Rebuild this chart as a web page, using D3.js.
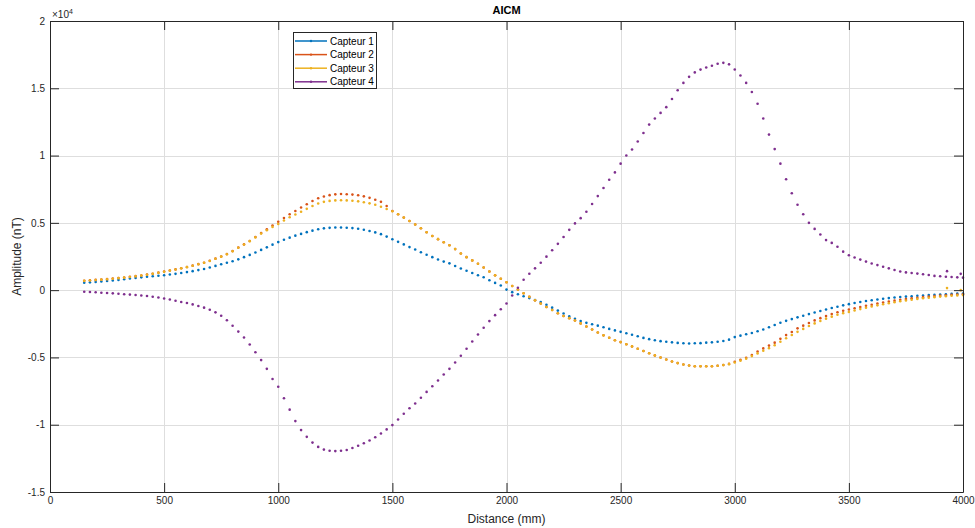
<!DOCTYPE html>
<html>
<head>
<meta charset="utf-8">
<script src="https://cdn.jsdelivr.net/npm/d3@7"></script>
<style>
  html, body { margin: 0; padding: 0; background: #fff; }
  svg { display: block; font-family: "Liberation Sans", Arial, Helvetica, sans-serif; }
</style>
</head>
<body>
<svg id="chart" width="975" height="528"></svg>
<script>
// ---- data ----
const distance = [150,175,200,225,250,275,300,325,350,375,400,425,450,475,500,525,550,575,600,625,650,675,700,725,750,775,800,825,850,875,900,925,950,975,1000,1025,1050,1075,1100,1125,1150,1175,1200,1225,1250,1275,1300,1325,1350,1375,1400,1425,1450,1475,1500,1525,1550,1575,1600,1625,1650,1675,1700,1725,1750,1775,1800,1825,1850,1875,1900,1925,1950,1975,2000,2025,2050,2075,2100,2125,2150,2175,2200,2225,2250,2275,2300,2325,2350,2375,2400,2425,2450,2475,2500,2525,2550,2575,2600,2625,2650,2675,2700,2725,2750,2775,2800,2825,2850,2875,2900,2925,2950,2975,3000,3025,3050,3075,3100,3125,3150,3175,3200,3225,3250,3275,3300,3325,3350,3375,3400,3425,3450,3475,3500,3525,3550,3575,3600,3625,3650,3675,3700,3725,3750,3775,3800,3825,3850,3875,3900,3925,3950,3975,4000];

const capteur1 = [550,580,610,640,680,720,760,810,860,900,950,990,1030,1070,1110,1160,1210,1270,1340,1410,1490,1570,1680,1800,1920,2030,2150,2290,2450,2620,2800,2990,3180,3380,3570,3740,3900,4050,4180,4310,4420,4520,4590,4630,4660,4660,4640,4610,4560,4490,4400,4290,4160,3980,3780,3590,3400,3200,3020,2820,2630,2450,2280,2120,1990,1790,1610,1440,1270,1110,960,740,540,340,40,-150,-300,-450,-590,-730,-880,-1090,-1300,-1520,-1740,-1950,-2130,-2300,-2430,-2540,-2640,-2760,-2880,-2990,-3100,-3200,-3320,-3430,-3550,-3640,-3720,-3790,-3840,-3880,-3920,-3950,-3960,-3950,-3940,-3900,-3880,-3840,-3780,-3680,-3490,-3380,-3280,-3180,-3060,-2920,-2760,-2590,-2420,-2280,-2150,-2020,-1900,-1780,-1660,-1550,-1440,-1330,-1230,-1130,-1040,-960,-880,-810,-750,-700,-640,-590,-550,-510,-480,-450,-420,-400,-370,-350,-320,-300,-280,-260,-250];

const capteur2 = [700,730,760,790,820,860,900,940,990,1040,1090,1150,1220,1300,1380,1460,1540,1630,1720,1820,1930,2040,2180,2340,2500,2680,2900,3160,3400,3650,3950,4250,4520,4800,5080,5360,5640,5880,6140,6380,6620,6830,6960,7060,7120,7140,7130,7100,7050,6970,6860,6720,6560,6250,5880,5640,5390,5140,4880,4600,4300,4020,3790,3560,3340,3050,2720,2450,2210,1960,1680,1390,1100,850,590,310,40,-230,-500,-760,-1000,-1250,-1480,-1720,-1920,-2080,-2260,-2470,-2700,-2930,-3150,-3360,-3540,-3720,-3860,-4020,-4180,-4350,-4520,-4690,-4850,-5000,-5150,-5300,-5420,-5520,-5600,-5650,-5660,-5660,-5650,-5620,-5560,-5480,-5330,-5180,-5020,-4820,-4560,-4330,-4120,-3900,-3620,-3340,-3110,-2840,-2640,-2440,-2250,-2080,-1920,-1770,-1640,-1530,-1440,-1340,-1250,-1160,-1080,-1000,-920,-850,-780,-720,-660,-610,-560,-520,-480,-440,-410,-380,-350,-320,-300];

const capteur3 = [690,720,750,780,810,850,890,930,980,1030,1080,1140,1210,1290,1370,1450,1530,1620,1710,1810,1920,2030,2170,2330,2490,2670,2890,3150,3390,3640,3920,4200,4450,4700,4920,5180,5420,5620,5830,6040,6250,6440,6560,6630,6670,6680,6670,6640,6600,6530,6450,6340,6200,6030,5860,5640,5390,5140,4880,4600,4300,4020,3790,3560,3340,3050,2720,2450,2210,1960,1680,1390,1100,850,590,310,40,-230,-500,-760,-1000,-1250,-1480,-1720,-1920,-2080,-2260,-2470,-2700,-2930,-3150,-3360,-3540,-3720,-3860,-4020,-4180,-4350,-4520,-4690,-4850,-5000,-5150,-5300,-5420,-5520,-5600,-5650,-5660,-5660,-5650,-5620,-5570,-5500,-5380,-5240,-5090,-4900,-4700,-4500,-4310,-4100,-3840,-3570,-3330,-3100,-2880,-2670,-2470,-2290,-2120,-1970,-1830,-1710,-1620,-1510,-1410,-1310,-1220,-1130,-1050,-970,-900,-830,-770,-710,-650,-600,-560,-520,-480,-450,-420,-390,-370];

const capteur4 = [-120,-140,-160,-190,-210,-240,-270,-300,-330,-360,-400,-440,-490,-550,-620,-700,-790,-880,-960,-1060,-1180,-1300,-1460,-1650,-1900,-2240,-2650,-3080,-3520,-4040,-4620,-5200,-5850,-6600,-7180,-8030,-8880,-9730,-10400,-10900,-11330,-11650,-11850,-11940,-11960,-11940,-11880,-11730,-11560,-11380,-11170,-10930,-10650,-10350,-10030,-9610,-9180,-8780,-8420,-8000,-7560,-7140,-6710,-6270,-5850,-5380,-4880,-4350,-3820,-3300,-2800,-2300,-1860,-1420,-990,-400,180,770,1220,1620,2030,2490,2960,3440,3950,4480,4960,5350,5820,6400,6990,7590,8200,8750,9400,10000,10450,11050,11680,12300,12760,13170,13600,14200,14850,15400,15850,16180,16390,16540,16680,16820,16890,16780,16400,15950,15400,14720,13850,12750,11560,10480,9400,8240,7200,6350,5640,5000,4550,4140,3720,3510,3230,2860,2590,2430,2270,2120,1980,1860,1740,1620,1500,1380,1320,1270,1230,1180,1120,1060,1030,1000,980,950,930];

// isolated stray samples near the right edge
const capteur3Extra = [[3930, 150], [3990, 0]];
const capteur4Extra = [[3930, 1410], [3990, 1210]];

const seriesNames = ["Capteur 1", "Capteur 2", "Capteur 3", "Capteur 4"];
const seriesColors = ["#0072BD", "#D95319", "#EDB120", "#7E2F8E"];

const xTicks = [0, 500, 1000, 1500, 2000, 2500, 3000, 3500, 4000];
const yTicks = [-15000, -10000, -5000, 0, 5000, 10000, 15000, 20000];
const yTickLabels = ["-1.5", "-1", "-0.5", "0", "0.5", "1", "1.5", "2"];

const titleText = "AICM";
const xLabel = "Distance (mm)";
const yLabel = "Amplitude (nT)";

// ---- drawing ----
const svg = d3.select("#chart");
const L = 50, R = 963, T = 21, B = 492;
const x = d3.scaleLinear().domain([0, 4000]).range([L, R]);
const y = d3.scaleLinear().domain([-15000, 20000]).range([B, T]);
const axisColor = "#262626";
const tickLen = 9;

// grid
const grid = svg.append("g");
grid.selectAll("line.gx").data(xTicks.slice(1, -1)).enter().append("line")
  .attr("x1", d => Math.round(x(d)) + 0.5).attr("x2", d => Math.round(x(d)) + 0.5)
  .attr("y1", T).attr("y2", B)
  .attr("stroke", "#dedede").attr("stroke-width", 1);
grid.selectAll("line.gy").data(yTicks.slice(1, -1)).enter().append("line")
  .attr("y1", d => Math.round(y(d)) + 0.5).attr("y2", d => Math.round(y(d)) + 0.5)
  .attr("x1", L).attr("x2", R)
  .attr("stroke", "#dedede").attr("stroke-width", 1);

// data points
const allSeries = [capteur1, capteur2, capteur3, capteur4];
const extras = [[], [], capteur3Extra, capteur4Extra];
allSeries.forEach((vals, i) => {
  const pts = vals.map((v, k) => [distance[k], v]).concat(extras[i]);
  svg.append("g").selectAll("circle").data(pts).enter().append("circle")
    .attr("cx", d => x(d[0])).attr("cy", d => y(d[1]))
    .attr("r", 1.3).attr("fill", seriesColors[i]);
});

// axes box with inward ticks (bottom/left via d3 axes, mirrored on top/right)
const xAxisB = d3.axisBottom(x).tickValues(xTicks).tickSizeInner(-tickLen).tickSizeOuter(0).tickPadding(5).tickFormat(d3.format("d"));
const xAxisT = d3.axisTop(x).tickValues(xTicks).tickSizeInner(-tickLen).tickSizeOuter(0).tickFormat("");
const yAxisL = d3.axisLeft(y).tickValues(yTicks).tickSizeInner(-tickLen).tickSizeOuter(0).tickPadding(5)
  .tickFormat((d, i) => yTickLabels[i]);
const yAxisR = d3.axisRight(y).tickValues(yTicks).tickSizeInner(-tickLen).tickSizeOuter(0).tickFormat("");

function styleAxis(g) {
  g.select(".domain").attr("stroke", axisColor).attr("stroke-width", 1);
  g.selectAll(".tick line").attr("stroke", axisColor).attr("stroke-width", 1);
  g.selectAll(".tick text").attr("fill", axisColor).attr("font-size", 10)
    .attr("font-family", "'Liberation Sans', Arial, sans-serif");
}
svg.append("g").attr("transform", `translate(0,${B})`).call(xAxisB).call(styleAxis);
svg.append("g").attr("transform", `translate(0,${T})`).call(xAxisT).call(styleAxis);
svg.append("g").attr("transform", `translate(${L},0)`).call(yAxisL).call(styleAxis);
svg.append("g").attr("transform", `translate(${R},0)`).call(yAxisR).call(styleAxis);

// exponent label
const exp = svg.append("text").attr("x", 52).attr("y", 18).attr("fill", axisColor).attr("font-size", 10);
exp.append("tspan").text("×10");
exp.append("tspan").attr("font-size", 7).attr("dy", -4).text("4");

// title and labels
svg.append("text").attr("x", (L + R) / 2).attr("y", 14).attr("text-anchor", "middle")
  .attr("font-size", 11).attr("font-weight", "bold").attr("fill", "#000").text(titleText);
svg.append("text").attr("x", (L + R) / 2).attr("y", 523).attr("text-anchor", "middle")
  .attr("font-size", 12).attr("fill", axisColor).text(xLabel);
svg.append("text").attr("transform", `translate(21,${(T + B) / 2}) rotate(-90)`).attr("text-anchor", "middle")
  .attr("font-size", 12).attr("fill", axisColor).text(yLabel);

// legend
const lg = svg.append("g");
lg.append("rect").attr("x", 293.5).attr("y", 32.5).attr("width", 83).attr("height", 56)
  .attr("fill", "#fff").attr("stroke", axisColor).attr("stroke-width", 1);
seriesNames.forEach((name, i) => {
  const yy = 41 + i * 13.6;
  lg.append("line").attr("x1", 295).attr("x2", 327).attr("y1", yy).attr("y2", yy)
    .attr("stroke", seriesColors[i]).attr("stroke-width", 1.5);
  lg.append("circle").attr("cx", 311).attr("cy", yy).attr("r", 1.2).attr("fill", seriesColors[i]);
  lg.append("text").attr("x", 330).attr("y", yy + 3.5).attr("font-size", 10).attr("fill", "#000").text(name);
});
</script>
</body>
</html>
